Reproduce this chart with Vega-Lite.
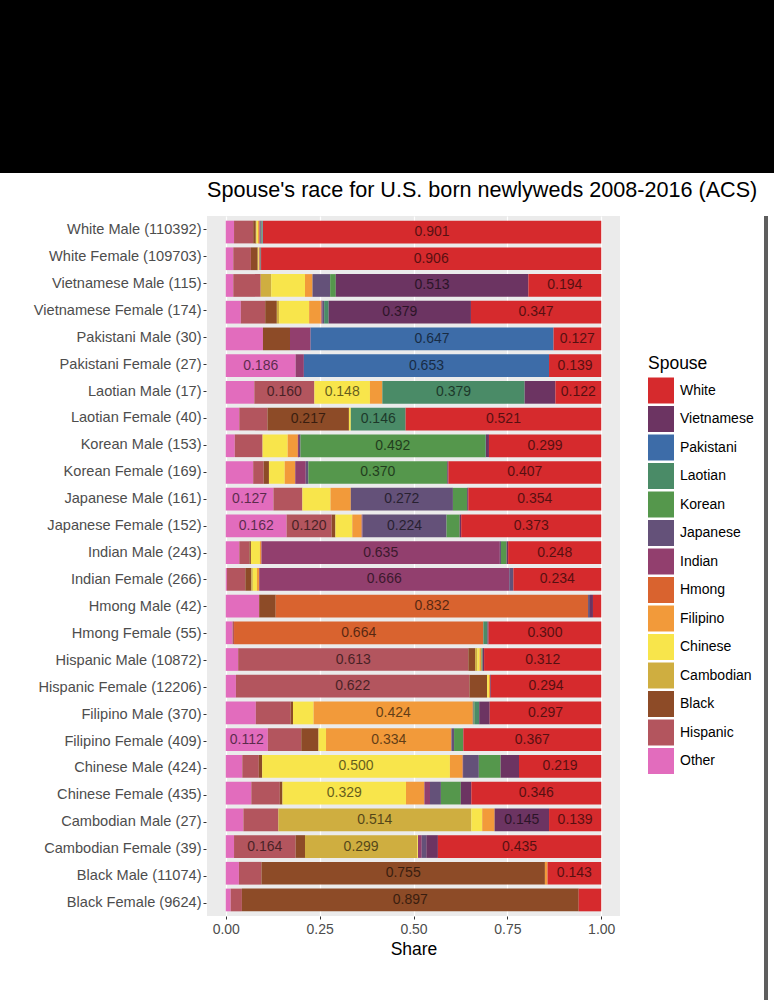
{
  "$schema": "https://vega.github.io/schema/vega-lite/v6.json",
  "background": "white",
  "padding": 0,
  "spacing": 7,
  "config": {
    "font": "Liberation Sans",
    "view": {"stroke": null},
    "concat": {"spacing": 0}
  },
  "datasets": {
    "marriages": [
      {"group": "White Male (110392)", "spouse": "Other", "share": 0.022},
      {"group": "White Male (110392)", "spouse": "Hispanic", "share": 0.051},
      {"group": "White Male (110392)", "spouse": "Black", "share": 0.007},
      {"group": "White Male (110392)", "spouse": "Cambodian", "share": 0.002},
      {"group": "White Male (110392)", "spouse": "Chinese", "share": 0.004},
      {"group": "White Male (110392)", "spouse": "Filipino", "share": 0.003},
      {"group": "White Male (110392)", "spouse": "Hmong", "share": 0.001},
      {"group": "White Male (110392)", "spouse": "Indian", "share": 0.002},
      {"group": "White Male (110392)", "spouse": "Japanese", "share": 0.003},
      {"group": "White Male (110392)", "spouse": "Korean", "share": 0.002},
      {"group": "White Male (110392)", "spouse": "Laotian", "share": 0.001},
      {"group": "White Male (110392)", "spouse": "Pakistani", "share": 0.001},
      {"group": "White Male (110392)", "spouse": "White", "share": 0.901},

      {"group": "White Female (109703)", "spouse": "Other", "share": 0.020},
      {"group": "White Female (109703)", "spouse": "Hispanic", "share": 0.047},
      {"group": "White Female (109703)", "spouse": "Black", "share": 0.018},
      {"group": "White Female (109703)", "spouse": "Cambodian", "share": 0.001},
      {"group": "White Female (109703)", "spouse": "Chinese", "share": 0.002},
      {"group": "White Female (109703)", "spouse": "Filipino", "share": 0.002},
      {"group": "White Female (109703)", "spouse": "Indian", "share": 0.001},
      {"group": "White Female (109703)", "spouse": "Japanese", "share": 0.001},
      {"group": "White Female (109703)", "spouse": "Korean", "share": 0.001},
      {"group": "White Female (109703)", "spouse": "Vietnamese", "share": 0.001},
      {"group": "White Female (109703)", "spouse": "White", "share": 0.906},

      {"group": "Vietnamese Male (115)", "spouse": "Other", "share": 0.020},
      {"group": "Vietnamese Male (115)", "spouse": "Hispanic", "share": 0.073},
      {"group": "Vietnamese Male (115)", "spouse": "Cambodian", "share": 0.028},
      {"group": "Vietnamese Male (115)", "spouse": "Chinese", "share": 0.090},
      {"group": "Vietnamese Male (115)", "spouse": "Filipino", "share": 0.020},
      {"group": "Vietnamese Male (115)", "spouse": "Japanese", "share": 0.047},
      {"group": "Vietnamese Male (115)", "spouse": "Korean", "share": 0.015},
      {"group": "Vietnamese Male (115)", "spouse": "Vietnamese", "share": 0.513},
      {"group": "Vietnamese Male (115)", "spouse": "White", "share": 0.194},

      {"group": "Vietnamese Female (174)", "spouse": "Other", "share": 0.040},
      {"group": "Vietnamese Female (174)", "spouse": "Hispanic", "share": 0.065},
      {"group": "Vietnamese Female (174)", "spouse": "Black", "share": 0.031},
      {"group": "Vietnamese Female (174)", "spouse": "Cambodian", "share": 0.006},
      {"group": "Vietnamese Female (174)", "spouse": "Chinese", "share": 0.080},
      {"group": "Vietnamese Female (174)", "spouse": "Filipino", "share": 0.031},
      {"group": "Vietnamese Female (174)", "spouse": "Hmong", "share": 0.002},
      {"group": "Vietnamese Female (174)", "spouse": "Indian", "share": 0.002},
      {"group": "Vietnamese Female (174)", "spouse": "Japanese", "share": 0.005},
      {"group": "Vietnamese Female (174)", "spouse": "Laotian", "share": 0.012},
      {"group": "Vietnamese Female (174)", "spouse": "Vietnamese", "share": 0.379},
      {"group": "Vietnamese Female (174)", "spouse": "White", "share": 0.347},

      {"group": "Pakistani Male (30)", "spouse": "Other", "share": 0.099},
      {"group": "Pakistani Male (30)", "spouse": "Black", "share": 0.072},
      {"group": "Pakistani Male (30)", "spouse": "Indian", "share": 0.055},
      {"group": "Pakistani Male (30)", "spouse": "Pakistani", "share": 0.647},
      {"group": "Pakistani Male (30)", "spouse": "White", "share": 0.127},

      {"group": "Pakistani Female (27)", "spouse": "Other", "share": 0.186},
      {"group": "Pakistani Female (27)", "spouse": "Indian", "share": 0.022},
      {"group": "Pakistani Female (27)", "spouse": "Pakistani", "share": 0.653},
      {"group": "Pakistani Female (27)", "spouse": "White", "share": 0.139},

      {"group": "Laotian Male (17)", "spouse": "Other", "share": 0.076},
      {"group": "Laotian Male (17)", "spouse": "Hispanic", "share": 0.160},
      {"group": "Laotian Male (17)", "spouse": "Chinese", "share": 0.148},
      {"group": "Laotian Male (17)", "spouse": "Filipino", "share": 0.033},
      {"group": "Laotian Male (17)", "spouse": "Laotian", "share": 0.379},
      {"group": "Laotian Male (17)", "spouse": "Vietnamese", "share": 0.082},
      {"group": "Laotian Male (17)", "spouse": "White", "share": 0.122},

      {"group": "Laotian Female (40)", "spouse": "Other", "share": 0.036},
      {"group": "Laotian Female (40)", "spouse": "Hispanic", "share": 0.075},
      {"group": "Laotian Female (40)", "spouse": "Black", "share": 0.217},
      {"group": "Laotian Female (40)", "spouse": "Chinese", "share": 0.005},
      {"group": "Laotian Female (40)", "spouse": "Laotian", "share": 0.146},
      {"group": "Laotian Female (40)", "spouse": "White", "share": 0.521},

      {"group": "Korean Male (153)", "spouse": "Other", "share": 0.024},
      {"group": "Korean Male (153)", "spouse": "Hispanic", "share": 0.074},
      {"group": "Korean Male (153)", "spouse": "Chinese", "share": 0.067},
      {"group": "Korean Male (153)", "spouse": "Filipino", "share": 0.027},
      {"group": "Korean Male (153)", "spouse": "Indian", "share": 0.003},
      {"group": "Korean Male (153)", "spouse": "Japanese", "share": 0.004},
      {"group": "Korean Male (153)", "spouse": "Korean", "share": 0.492},
      {"group": "Korean Male (153)", "spouse": "Laotian", "share": 0.002},
      {"group": "Korean Male (153)", "spouse": "Vietnamese", "share": 0.008},
      {"group": "Korean Male (153)", "spouse": "White", "share": 0.299},

      {"group": "Korean Female (169)", "spouse": "Other", "share": 0.073},
      {"group": "Korean Female (169)", "spouse": "Hispanic", "share": 0.028},
      {"group": "Korean Female (169)", "spouse": "Black", "share": 0.014},
      {"group": "Korean Female (169)", "spouse": "Chinese", "share": 0.042},
      {"group": "Korean Female (169)", "spouse": "Filipino", "share": 0.028},
      {"group": "Korean Female (169)", "spouse": "Indian", "share": 0.028},
      {"group": "Korean Female (169)", "spouse": "Japanese", "share": 0.007},
      {"group": "Korean Female (169)", "spouse": "Korean", "share": 0.370},
      {"group": "Korean Female (169)", "spouse": "Vietnamese", "share": 0.003},
      {"group": "Korean Female (169)", "spouse": "White", "share": 0.407},

      {"group": "Japanese Male (161)", "spouse": "Other", "share": 0.127},
      {"group": "Japanese Male (161)", "spouse": "Hispanic", "share": 0.077},
      {"group": "Japanese Male (161)", "spouse": "Chinese", "share": 0.075},
      {"group": "Japanese Male (161)", "spouse": "Filipino", "share": 0.054},
      {"group": "Japanese Male (161)", "spouse": "Japanese", "share": 0.272},
      {"group": "Japanese Male (161)", "spouse": "Korean", "share": 0.038},
      {"group": "Japanese Male (161)", "spouse": "Vietnamese", "share": 0.003},
      {"group": "Japanese Male (161)", "spouse": "White", "share": 0.354},

      {"group": "Japanese Female (152)", "spouse": "Other", "share": 0.162},
      {"group": "Japanese Female (152)", "spouse": "Hispanic", "share": 0.120},
      {"group": "Japanese Female (152)", "spouse": "Black", "share": 0.010},
      {"group": "Japanese Female (152)", "spouse": "Chinese", "share": 0.045},
      {"group": "Japanese Female (152)", "spouse": "Filipino", "share": 0.025},
      {"group": "Japanese Female (152)", "spouse": "Indian", "share": 0.002},
      {"group": "Japanese Female (152)", "spouse": "Japanese", "share": 0.224},
      {"group": "Japanese Female (152)", "spouse": "Korean", "share": 0.035},
      {"group": "Japanese Female (152)", "spouse": "Vietnamese", "share": 0.004},
      {"group": "Japanese Female (152)", "spouse": "White", "share": 0.373},

      {"group": "Indian Male (243)", "spouse": "Other", "share": 0.036},
      {"group": "Indian Male (243)", "spouse": "Hispanic", "share": 0.027},
      {"group": "Indian Male (243)", "spouse": "Black", "share": 0.004},
      {"group": "Indian Male (243)", "spouse": "Chinese", "share": 0.024},
      {"group": "Indian Male (243)", "spouse": "Filipino", "share": 0.004},
      {"group": "Indian Male (243)", "spouse": "Indian", "share": 0.635},
      {"group": "Indian Male (243)", "spouse": "Japanese", "share": 0.003},
      {"group": "Indian Male (243)", "spouse": "Korean", "share": 0.015},
      {"group": "Indian Male (243)", "spouse": "Vietnamese", "share": 0.004},
      {"group": "Indian Male (243)", "spouse": "White", "share": 0.248},

      {"group": "Indian Female (266)", "spouse": "Other", "share": 0.003},
      {"group": "Indian Female (266)", "spouse": "Hispanic", "share": 0.049},
      {"group": "Indian Female (266)", "spouse": "Black", "share": 0.016},
      {"group": "Indian Female (266)", "spouse": "Cambodian", "share": 0.004},
      {"group": "Indian Female (266)", "spouse": "Chinese", "share": 0.011},
      {"group": "Indian Female (266)", "spouse": "Filipino", "share": 0.006},
      {"group": "Indian Female (266)", "spouse": "Indian", "share": 0.666},
      {"group": "Indian Female (266)", "spouse": "Japanese", "share": 0.011},
      {"group": "Indian Female (266)", "spouse": "White", "share": 0.234},

      {"group": "Hmong Male (42)", "spouse": "Other", "share": 0.089},
      {"group": "Hmong Male (42)", "spouse": "Black", "share": 0.044},
      {"group": "Hmong Male (42)", "spouse": "Hmong", "share": 0.832},
      {"group": "Hmong Male (42)", "spouse": "Japanese", "share": 0.005},
      {"group": "Hmong Male (42)", "spouse": "Vietnamese", "share": 0.008},
      {"group": "Hmong Male (42)", "spouse": "White", "share": 0.022},

      {"group": "Hmong Female (55)", "spouse": "Other", "share": 0.018},
      {"group": "Hmong Female (55)", "spouse": "Hispanic", "share": 0.004},
      {"group": "Hmong Female (55)", "spouse": "Hmong", "share": 0.664},
      {"group": "Hmong Female (55)", "spouse": "Laotian", "share": 0.011},
      {"group": "Hmong Female (55)", "spouse": "Vietnamese", "share": 0.003},
      {"group": "Hmong Female (55)", "spouse": "White", "share": 0.300},

      {"group": "Hispanic Male (10872)", "spouse": "Other", "share": 0.033},
      {"group": "Hispanic Male (10872)", "spouse": "Hispanic", "share": 0.613},
      {"group": "Hispanic Male (10872)", "spouse": "Black", "share": 0.018},
      {"group": "Hispanic Male (10872)", "spouse": "Cambodian", "share": 0.006},
      {"group": "Hispanic Male (10872)", "spouse": "Chinese", "share": 0.006},
      {"group": "Hispanic Male (10872)", "spouse": "Filipino", "share": 0.005},
      {"group": "Hispanic Male (10872)", "spouse": "Korean", "share": 0.003},
      {"group": "Hispanic Male (10872)", "spouse": "Vietnamese", "share": 0.004},
      {"group": "Hispanic Male (10872)", "spouse": "White", "share": 0.312},

      {"group": "Hispanic Female (12206)", "spouse": "Other", "share": 0.027},
      {"group": "Hispanic Female (12206)", "spouse": "Hispanic", "share": 0.622},
      {"group": "Hispanic Female (12206)", "spouse": "Black", "share": 0.047},
      {"group": "Hispanic Female (12206)", "spouse": "Chinese", "share": 0.005},
      {"group": "Hispanic Female (12206)", "spouse": "Filipino", "share": 0.003},
      {"group": "Hispanic Female (12206)", "spouse": "Vietnamese", "share": 0.002},
      {"group": "Hispanic Female (12206)", "spouse": "White", "share": 0.294},

      {"group": "Filipino Male (370)", "spouse": "Other", "share": 0.080},
      {"group": "Filipino Male (370)", "spouse": "Hispanic", "share": 0.093},
      {"group": "Filipino Male (370)", "spouse": "Black", "share": 0.006},
      {"group": "Filipino Male (370)", "spouse": "Chinese", "share": 0.055},
      {"group": "Filipino Male (370)", "spouse": "Filipino", "share": 0.424},
      {"group": "Filipino Male (370)", "spouse": "Japanese", "share": 0.002},
      {"group": "Filipino Male (370)", "spouse": "Korean", "share": 0.003},
      {"group": "Filipino Male (370)", "spouse": "Laotian", "share": 0.012},
      {"group": "Filipino Male (370)", "spouse": "Vietnamese", "share": 0.028},
      {"group": "Filipino Male (370)", "spouse": "White", "share": 0.297},

      {"group": "Filipino Female (409)", "spouse": "Other", "share": 0.112},
      {"group": "Filipino Female (409)", "spouse": "Hispanic", "share": 0.089},
      {"group": "Filipino Female (409)", "spouse": "Black", "share": 0.046},
      {"group": "Filipino Female (409)", "spouse": "Chinese", "share": 0.020},
      {"group": "Filipino Female (409)", "spouse": "Filipino", "share": 0.334},
      {"group": "Filipino Female (409)", "spouse": "Japanese", "share": 0.007},
      {"group": "Filipino Female (409)", "spouse": "Korean", "share": 0.024},
      {"group": "Filipino Female (409)", "spouse": "Vietnamese", "share": 0.001},
      {"group": "Filipino Female (409)", "spouse": "White", "share": 0.367},

      {"group": "Chinese Male (424)", "spouse": "Other", "share": 0.044},
      {"group": "Chinese Male (424)", "spouse": "Hispanic", "share": 0.044},
      {"group": "Chinese Male (424)", "spouse": "Black", "share": 0.009},
      {"group": "Chinese Male (424)", "spouse": "Chinese", "share": 0.500},
      {"group": "Chinese Male (424)", "spouse": "Filipino", "share": 0.034},
      {"group": "Chinese Male (424)", "spouse": "Indian", "share": 0.001},
      {"group": "Chinese Male (424)", "spouse": "Japanese", "share": 0.042},
      {"group": "Chinese Male (424)", "spouse": "Korean", "share": 0.058},
      {"group": "Chinese Male (424)", "spouse": "Vietnamese", "share": 0.049},
      {"group": "Chinese Male (424)", "spouse": "White", "share": 0.219},

      {"group": "Chinese Female (435)", "spouse": "Other", "share": 0.068},
      {"group": "Chinese Female (435)", "spouse": "Hispanic", "share": 0.076},
      {"group": "Chinese Female (435)", "spouse": "Black", "share": 0.007},
      {"group": "Chinese Female (435)", "spouse": "Chinese", "share": 0.329},
      {"group": "Chinese Female (435)", "spouse": "Filipino", "share": 0.049},
      {"group": "Chinese Female (435)", "spouse": "Indian", "share": 0.015},
      {"group": "Chinese Female (435)", "spouse": "Japanese", "share": 0.029},
      {"group": "Chinese Female (435)", "spouse": "Korean", "share": 0.053},
      {"group": "Chinese Female (435)", "spouse": "Vietnamese", "share": 0.028},
      {"group": "Chinese Female (435)", "spouse": "White", "share": 0.346},

      {"group": "Cambodian Male (27)", "spouse": "Other", "share": 0.047},
      {"group": "Cambodian Male (27)", "spouse": "Hispanic", "share": 0.093},
      {"group": "Cambodian Male (27)", "spouse": "Cambodian", "share": 0.514},
      {"group": "Cambodian Male (27)", "spouse": "Chinese", "share": 0.029},
      {"group": "Cambodian Male (27)", "spouse": "Filipino", "share": 0.033},
      {"group": "Cambodian Male (27)", "spouse": "Vietnamese", "share": 0.145},
      {"group": "Cambodian Male (27)", "spouse": "White", "share": 0.139},

      {"group": "Cambodian Female (39)", "spouse": "Other", "share": 0.022},
      {"group": "Cambodian Female (39)", "spouse": "Hispanic", "share": 0.164},
      {"group": "Cambodian Female (39)", "spouse": "Black", "share": 0.025},
      {"group": "Cambodian Female (39)", "spouse": "Cambodian", "share": 0.299},
      {"group": "Cambodian Female (39)", "spouse": "Chinese", "share": 0.002},
      {"group": "Cambodian Female (39)", "spouse": "Indian", "share": 0.010},
      {"group": "Cambodian Female (39)", "spouse": "Japanese", "share": 0.012},
      {"group": "Cambodian Female (39)", "spouse": "Vietnamese", "share": 0.031},
      {"group": "Cambodian Female (39)", "spouse": "White", "share": 0.435},

      {"group": "Black Male (11074)", "spouse": "Other", "share": 0.035},
      {"group": "Black Male (11074)", "spouse": "Hispanic", "share": 0.060},
      {"group": "Black Male (11074)", "spouse": "Black", "share": 0.755},
      {"group": "Black Male (11074)", "spouse": "Filipino", "share": 0.007},
      {"group": "Black Male (11074)", "spouse": "White", "share": 0.143},

      {"group": "Black Female (9624)", "spouse": "Other", "share": 0.013},
      {"group": "Black Female (9624)", "spouse": "Hispanic", "share": 0.030},
      {"group": "Black Female (9624)", "spouse": "Black", "share": 0.897},
      {"group": "Black Female (9624)", "spouse": "White", "share": 0.060}
    ]
  },
  "vconcat": [
    {
      "data": {"values": []},
      "width": 774,
      "height": 173,
      "view": {"fill": "black", "stroke": null},
      "mark": {"type": "point", "opacity": 0},
      "encoding": {}
    },
    {
      "spacing": 0,
      "resolve": {
        "scale": {"y": "independent", "color": "independent"},
        "legend": {"color": "independent"}
      },
      "hconcat": [
        {
          "data": {"name": "marriages"},
          "width": 203,
          "height": 700,
          "view": {"fill": null, "stroke": null},
          "mark": {"type": "point", "opacity": 0},
          "encoding": {
            "y": {
              "field": "group",
              "type": "nominal",
              "sort": ["White Male (110392)", "White Female (109703)", "Vietnamese Male (115)", "Vietnamese Female (174)", "Pakistani Male (30)", "Pakistani Female (27)", "Laotian Male (17)", "Laotian Female (40)", "Korean Male (153)", "Korean Female (169)", "Japanese Male (161)", "Japanese Female (152)", "Indian Male (243)", "Indian Female (266)", "Hmong Male (42)", "Hmong Female (55)", "Hispanic Male (10872)", "Hispanic Female (12206)", "Filipino Male (370)", "Filipino Female (409)", "Chinese Male (424)", "Chinese Female (435)", "Cambodian Male (27)", "Cambodian Female (39)", "Black Male (11074)", "Black Female (9624)"],
              "scale": {"paddingInner": 0.15, "paddingOuter": 0.175},
              "axis": {
                "orient": "right",
                "title": null,
                "domain": false,
                "grid": false,
                "ticks": true,
                "tickSize": 3,
                "tickColor": "#333333",
                "labelAlign": "right",
                "labelPadding": -5,
                "labelFontSize": 14.6,
                "labelColor": "#4D4D4D",
                "labelLimit": 0
              }
            }
          }
        },
        {
          "data": {"name": "marriages"},
          "width": 413,
          "height": 700,
          "view": {"fill": "#EBEBEB", "stroke": null},
          "title": {
            "text": "Spouse's race for U.S. born newlyweds 2008-2016 (ACS)",
            "anchor": "start",
            "frame": "group",
            "fontSize": 21.6,
            "fontWeight": "normal",
            "color": "black",
            "offset": 14
          },
          "transform": [
            {
              "calculate": "indexof(['Other','Hispanic','Black','Cambodian','Chinese','Filipino','Hmong','Indian','Japanese','Korean','Laotian','Pakistani','Vietnamese','White'], datum.spouse)",
              "as": "stack_rank"
            }
          ],
          "encoding": {
            "y": {
              "field": "group",
              "type": "nominal",
              "sort": ["White Male (110392)", "White Female (109703)", "Vietnamese Male (115)", "Vietnamese Female (174)", "Pakistani Male (30)", "Pakistani Female (27)", "Laotian Male (17)", "Laotian Female (40)", "Korean Male (153)", "Korean Female (169)", "Japanese Male (161)", "Japanese Female (152)", "Indian Male (243)", "Indian Female (266)", "Hmong Male (42)", "Hmong Female (55)", "Hispanic Male (10872)", "Hispanic Female (12206)", "Filipino Male (370)", "Filipino Female (409)", "Chinese Male (424)", "Chinese Female (435)", "Cambodian Male (27)", "Cambodian Female (39)", "Black Male (11074)", "Black Female (9624)"],
              "scale": {"paddingInner": 0.15, "paddingOuter": 0.175},
              "axis": null
            }
          },
          "layer": [
            {
              "mark": {"type": "bar"},
              "encoding": {
                "x": {
                  "field": "share",
                  "type": "quantitative",
                  "stack": "zero",
                  "scale": {"domain": [-0.05, 1.05], "nice": false, "zero": false},
                  "axis": {
                    "values": [0, 0.25, 0.5, 0.75, 1],
                    "format": ".2f",
                    "title": "Share",
                    "titleFontSize": 17.5,
                    "titleFontWeight": "normal",
                    "titleColor": "black",
                    "titlePadding": 4,
                    "labelFontSize": 14,
                    "labelColor": "#4D4D4D",
                    "labelPadding": 3,
                    "tickColor": "#333333",
                    "tickSize": 3,
                    "domain": false,
                    "grid": true,
                    "gridColor": "white",
                    "gridWidth": 1.2
                  }
                },
                "color": {
                  "field": "spouse",
                  "type": "nominal",
                  "scale": {
                    "domain": ["White", "Vietnamese", "Pakistani", "Laotian", "Korean", "Japanese", "Indian", "Hmong", "Filipino", "Chinese", "Cambodian", "Black", "Hispanic", "Other"],
                    "range": ["#D62A2D", "#6C3462", "#3D6CA8", "#4A8B67", "#55974C", "#645179", "#923F6E", "#D9632F", "#F29A3A", "#F8E54B", "#CFAE40", "#8D4B27", "#B3555E", "#E26CBD"]
                  },
                  "legend": {
                    "title": "Spouse",
                    "orient": "none",
                    "legendX": 441,
                    "legendY": 139,
                    "padding": 0,
                    "symbolType": "square",
                    "symbolSize": 676,
                    "symbolStrokeWidth": 0,
                    "symbolOpacity": 1,
                    "rowPadding": 2.5,
                    "labelOffset": 6,
                    "labelFontSize": 14,
                    "labelColor": "black",
                    "titleFontSize": 17.5,
                    "titleFontWeight": "normal",
                    "titleColor": "black",
                    "titlePadding": 5
                  }
                },
                "order": {"field": "stack_rank", "type": "quantitative"}
              }
            },
            {
              "mark": {"type": "text", "fontSize": 14, "color": "black", "opacity": 0.6, "baseline": "middle"},
              "encoding": {
                "x": {"field": "share", "type": "quantitative", "stack": "zero", "bandPosition": 0.5},
                "detail": {"field": "spouse"},
                "order": {"field": "stack_rank", "type": "quantitative"},
                "text": {
                  "condition": {"test": "datum.share >= 0.11", "field": "share", "type": "quantitative", "format": ".3f"},
                  "value": ""
                }
              }
            }
          ]
        },
        {
          "data": {"values": []},
          "width": 6,
          "height": 1,
          "view": {"fill": null, "stroke": null},
          "mark": {"type": "point", "opacity": 0},
          "encoding": {}
        },
        {
          "data": {"values": []},
          "width": 4,
          "height": 786,
          "view": {"fill": "#5E5E5E", "stroke": null},
          "mark": {"type": "point", "opacity": 0},
          "encoding": {}
        }
      ]
    }
  ]
}
